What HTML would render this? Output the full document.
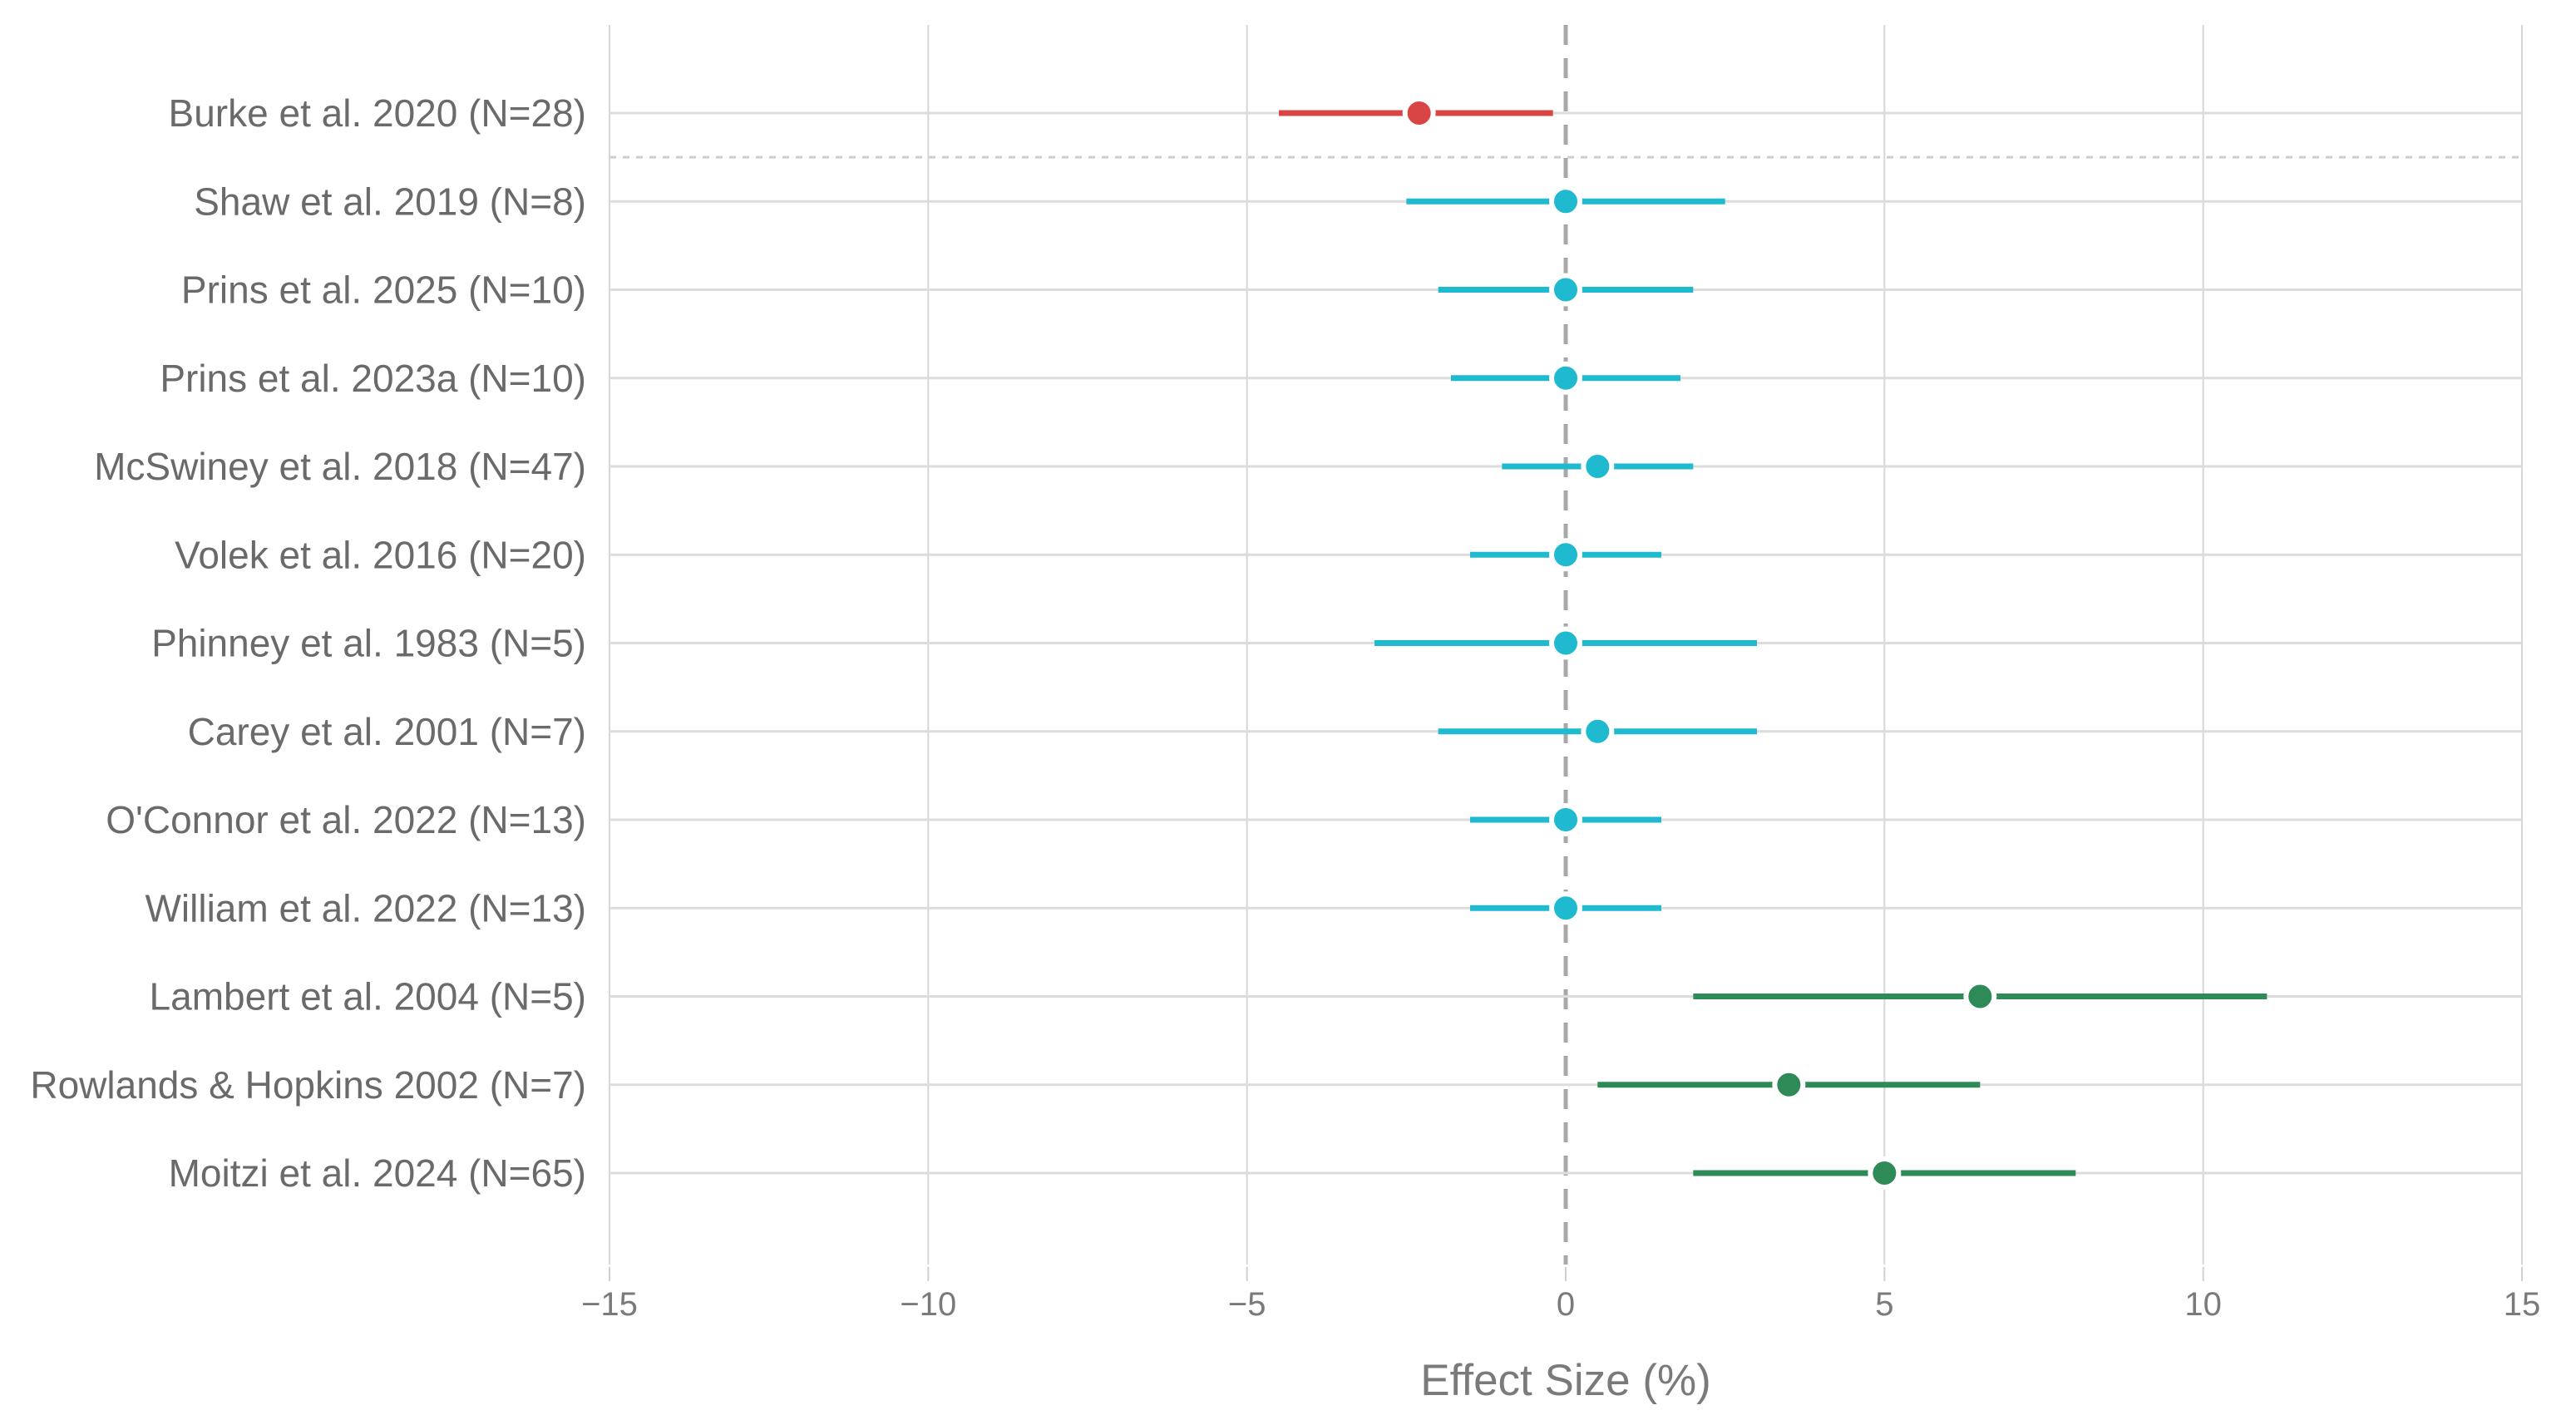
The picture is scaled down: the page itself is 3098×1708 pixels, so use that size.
<!DOCTYPE html>
<html><head><meta charset="utf-8"><style>
html,body{margin:0;padding:0;background:#fff;}
svg{display:block;font-family:"Liberation Sans",Arial,sans-serif;}
</style></head><body>
<svg id="chart" width="3098" height="1708" viewBox="0 0 3098 1708" xmlns="http://www.w3.org/2000/svg">
<g id="grid"></g>
<g id="rows"></g>
<g id="marks"></g>
<g id="axis"></g>
<text x="1883" y="1678" text-anchor="middle" font-size="53" fill="#7a7a7a">Effect Size (%)</text>
</svg>
<script>
const studies = ["Burke et al. 2020 (N=28)","Shaw et al. 2019 (N=8)","Prins et al. 2025 (N=10)","Prins et al. 2023a (N=10)","McSwiney et al. 2018 (N=47)","Volek et al. 2016 (N=20)","Phinney et al. 1983 (N=5)","Carey et al. 2001 (N=7)","O'Connor et al. 2022 (N=13)","William et al. 2022 (N=13)","Lambert et al. 2004 (N=5)","Rowlands & Hopkins 2002 (N=7)","Moitzi et al. 2024 (N=65)"];
const effects = [-2.3,0,0,0,0.5,0,0,0.5,0,0,6.5,3.5,5];
const lower = [-4.5,-2.5,-2,-1.8,-1,-1.5,-3,-2,-1.5,-1.5,2,0.5,2];
const upper = [-0.2,2.5,2,1.8,2,1.5,3,3,1.5,1.5,11,6.5,8];
const groups = ["neg","null","null","null","null","null","null","null","null","null","pos","pos","pos"];
const ticks = [-15,-10,-5,0,5,10,15];
const tickLabels = ["\u221215","\u221210","\u22125","0","5","10","15"];

const NS="http://www.w3.org/2000/svg";
const colors={neg:"#d94444",null:"#1fbad0",pos:"#2e8b57"};
const xMin=-15,xMax=15,xL=733,xR=3033;
function xs(v){return xL+(v-xMin)/(xMax-xMin)*(xR-xL);}
const yTop=136,yStep=106.25;
function ys(i){return yTop+i*yStep;}
function el(tag,attrs,parent){const e=document.createElementNS(NS,tag);for(const k in attrs)e.setAttribute(k,attrs[k]);parent.appendChild(e);return e;}
const grid=document.getElementById('grid'),rows=document.getElementById('rows'),marks=document.getElementById('marks'),axis=document.getElementById('axis');

ticks.forEach((t,i)=>{
  if(t!==0){
    const g=el('line',{x1:xs(t),x2:xs(t),y1:30,y2:1521,stroke:"#d6d6d6","stroke-width":2},grid);
    
    
  }
  const tk=el('line',{x1:xs(t),x2:xs(t),y1:1524,y2:1541,stroke:"#d0d0d0","stroke-width":2},axis);
  
  
  const tl=el('text',{x:xs(t),y:1582,"text-anchor":"middle","font-size":40,fill:"#7a7a7a"},axis);
  tl.textContent=tickLabels[i];
  
  
});

studies.forEach((s,i)=>{
  const y=ys(i);
  const hl=el('line',{x1:xL,x2:xR,y1:y,y2:y,stroke:"#dcdcdc","stroke-width":3},rows);
  
  
  const lb=el('text',{x:705,y:y+16,"text-anchor":"end","font-size":46,fill:"#6a6a6a"},rows);
  lb.textContent=s;
  
  
});

const sep=el('line',{x1:xL,x2:xR,y1:(ys(0)+ys(1))/2,y2:(ys(0)+ys(1))/2,stroke:"#cfcfcf","stroke-width":3,"stroke-dasharray":"8 8"},rows);



const zl=el('line',{x1:xs(0),x2:xs(0),y1:30,y2:1521,stroke:"#a8a8a8","stroke-width":5,"stroke-dasharray":"24 16"},grid);



studies.forEach((s,i)=>{
  const y=ys(i),c=colors[groups[i]];
  const ci=el('line',{x1:xs(lower[i]),x2:xs(upper[i]),y1:y,y2:y,stroke:c,"stroke-width":7},marks);
  
  
  const pt=el('circle',{cx:xs(effects[i]),cy:y,r:17,fill:c,stroke:"#fff","stroke-width":6},marks);
  
  
});
</script>
</body></html>
